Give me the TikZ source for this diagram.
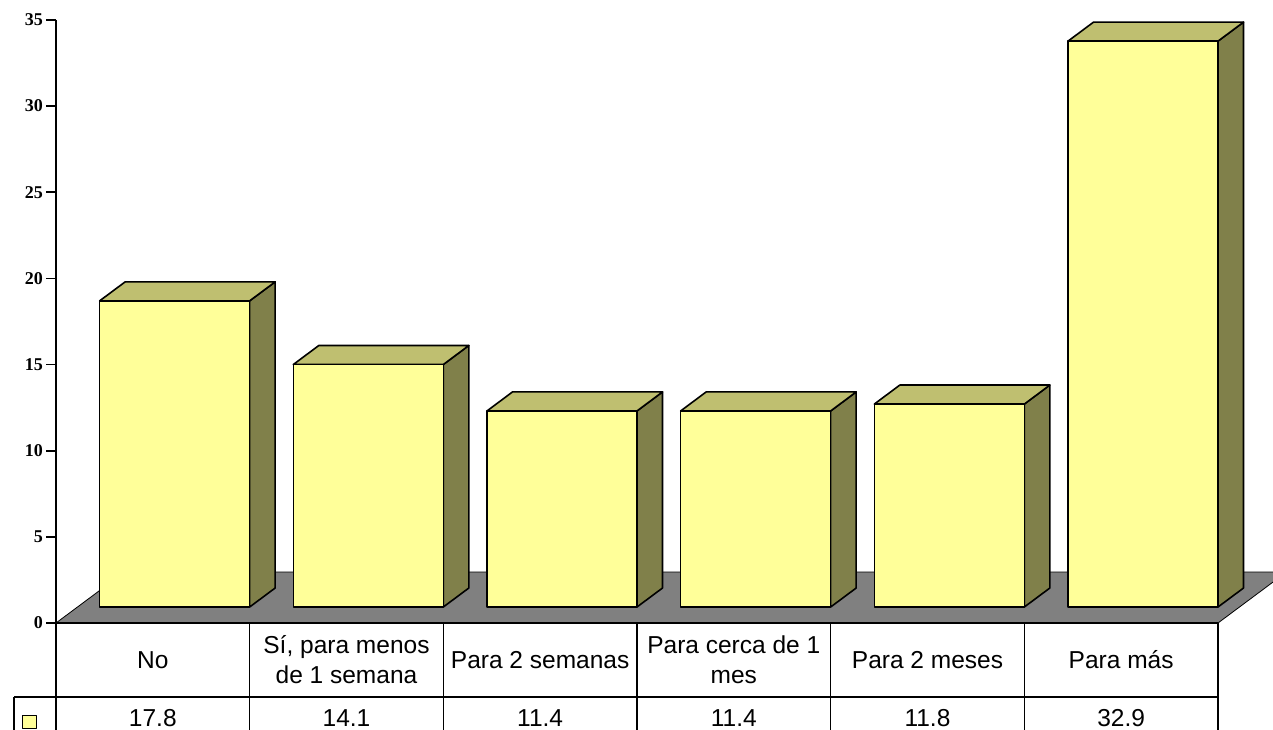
\documentclass[tikz,border=0pt]{standalone}
\usepackage{fontspec}
\setmainfont{Liberation Sans}
\newfontfamily\axisfont{Liberation Serif}
\definecolor{barfront}{HTML}{FFFF99}
\definecolor{bartop}{HTML}{BFBF70}
\definecolor{barside}{HTML}{80804A}
\definecolor{floorgray}{HTML}{808080}
\begin{document}
\begin{tikzpicture}[x=1pt,y=-1pt,line join=round,
  frontface/.style={fill=barfront,draw=black,line width=1.6pt},
  sideface/.style={fill=barside,draw=black,line width=1.6pt},
  topface/.style={fill=bartop,draw=black,line width=1.6pt},
  axisline/.style={draw=black,line width=1.6pt},
  tableline/.style={draw=black,line width=1.6pt},
  ticklabel/.style={anchor=east,inner sep=0pt,font=\axisfont\bfseries\fontsize{18}{18}\selectfont},
  headlabel/.style={align=center,inner sep=0pt,font=\fontsize{24.5}{30}\selectfont},
  datalabel/.style={anchor=base,inner sep=0pt,font=\fontsize{24.5}{30}\selectfont}]
\useasboundingbox (0,0) rectangle (1273,730);
\clip (0,0) rectangle (1273,730);
% floor
\filldraw[fill=floorgray,draw=black,line width=0.8pt] (56,623) -- (1218,623) -- (1286.5,572) -- (124.5,572) -- cycle;
% bars
\foreach \i/\v in {0/17.8,1/14.1,2/11.4,3/11.4,4/11.8,5/32.9} {
  \pgfmathsetmacro\xr{56+(\i+1)*193.67}
  \pgfmathsetmacro\xl{\xr-150}
  \pgfmathsetmacro\yt{607-\v*17.2}
  \draw[sideface] (\xr,607) -- (\xr+25.5,588) -- (\xr+25.5,\yt-19) -- (\xr,\yt) -- cycle;
  \draw[topface] (\xl,\yt) -- (\xl+25.5,\yt-19) -- (\xr+25.5,\yt-19) -- (\xr,\yt) -- cycle;
  \draw[frontface] (\xl,607) rectangle (\xr,\yt);
}
% axis
\draw[axisline] (56,20) -- (56,730);
\foreach \v in {0,5,...,35} {
  \draw[axisline] (46,623-\v*17.23) -- (56,623-\v*17.23);
  \node[ticklabel] (t\v) at (43,623-\v*17.23) {\v};
}
% table
\draw[tableline] (56,623) -- (1218,623);
\draw[tableline] (14,697) -- (1218,697);
\draw[tableline] (14,697) -- (14,730);
\foreach \i in {1,...,6} {
  \draw[tableline] (56+\i*193.67,623) -- (56+\i*193.67,730);
}
\foreach \i/\t in {0/No,1/{Sí, para menos\\de 1 semana},2/Para 2 semanas,3/{Para cerca de 1\\mes},4/Para 2 meses,5/Para más} {
  \node[headlabel] (h\i) at (56+\i*193.67+96.8,660) {\t};
}
\foreach \i/\t in {0/17.8,1/14.1,2/11.4,3/11.4,4/11.8,5/32.9} {
  \node[datalabel] (d\i) at (56+\i*193.67+96.8,726) {\t};
}
\draw[fill=barfront,draw=black,line width=1pt] (22,715) rectangle (36,728);
\end{tikzpicture}
\end{document}
